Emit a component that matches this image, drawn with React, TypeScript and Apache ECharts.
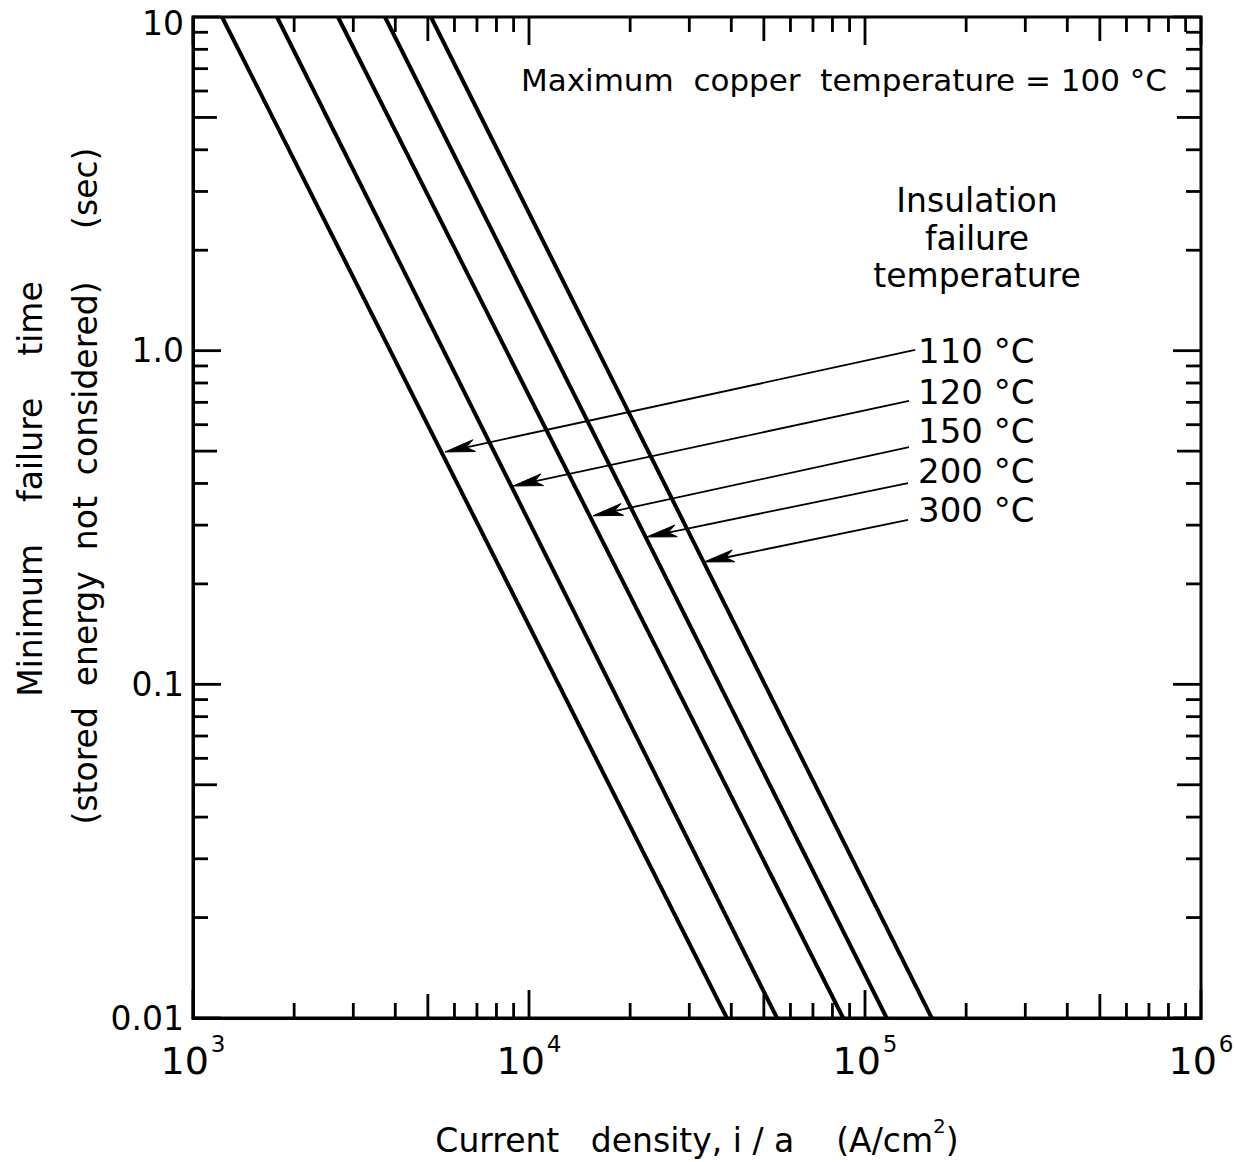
import React, { useEffect, useRef } from 'react';
import * as echarts from 'echarts';

const FAM = "'DejaVu Sans', sans-serif";

// Axis ranges
const X_MIN = 1e3;
const X_MAX = 1e6;
const Y_MIN = 0.01;
const Y_MAX = 10;

// Tick labels
const xTickExponents = ['3', '4', '5', '6'];
const yTickLabels = ['0.01', '0.1', '1.0', '10'];
const tickMantissas = [1, 2, 3, 4, 5, 6, 7, 8, 9];

// Curves: insulation failure temperature, current density at t = 10 s and at t = 0.01 s
const insulationTemps = ['110 °C', '120 °C', '150 °C', '200 °C', '300 °C'];
const currentAt10s = [1220, 1778, 2700, 3727, 5106];
const currentAt10ms = [38800, 54700, 86100, 116000, 158000];

// Arrows from labels to curves
const arrowTailX = [141000, 135200, 135200, 134300, 134300];
const arrowTailY = [1.005, 0.707, 0.514, 0.401, 0.311];
const arrowHeadX = [5620, 8960, 15500, 22400, 33200];
const arrowHeadY = [0.497, 0.393, 0.32, 0.2765, 0.2327];
const labelX = [143900, 143900, 143900, 143900, 143900];
const labelY = [0.998, 0.752, 0.574, 0.436, 0.333];

function buildTicks(minExp: number, maxExp: number) {
  const out: number[] = [];
  for (let e = minExp; e < maxExp; e++) {
    for (const m of tickMantissas) out.push(m * Math.pow(10, e));
  }
  out.push(Math.pow(10, maxExp));
  return out;
}
const xTicks = buildTicks(3, 6);
const yTicks = buildTicks(-2, 1);

function tickLen(v: number) {
  const e = Math.floor(Math.log10(v) + 1e-9);
  const m = Math.round(v / Math.pow(10, e));
  if (m === 1) return 28;
  if (m === 5) return 24;
  return 15;
}

export default function App() {
  const ref = useRef<HTMLDivElement>(null);
  useEffect(() => {
    if (!ref.current) return;
    const chart = echarts.init(ref.current, undefined, { renderer: 'svg' });

    const curveSeries = insulationTemps.map((name, i) => ({
      type: 'line',
      name,
      data: [
        [currentAt10s[i], Y_MAX],
        [currentAt10ms[i], Y_MIN],
      ],
      showSymbol: false,
      symbol: 'none',
      clip: true,
      lineStyle: { color: '#000', width: 4 },
      silent: true,
    }));

    const tickStyle = { stroke: '#000', lineWidth: 2.8 };

    const xTickSeries = {
      type: 'custom',
      coordinateSystem: 'cartesian2d',
      silent: true,
      data: xTicks.map((v) => [v, Y_MIN]),
      renderItem: (params: any, api: any) => {
        const v = api.value(0);
        const b = api.coord([v, Y_MIN]);
        const t = api.coord([v, Y_MAX]);
        const len = tickLen(v);
        return {
          type: 'group',
          children: [
            { type: 'line', shape: { x1: b[0], y1: b[1], x2: b[0], y2: b[1] - len }, style: tickStyle },
            { type: 'line', shape: { x1: t[0], y1: t[1], x2: t[0], y2: t[1] + len }, style: tickStyle },
          ],
        };
      },
    };

    const yTickSeries = {
      type: 'custom',
      coordinateSystem: 'cartesian2d',
      silent: true,
      data: yTicks.map((v) => [X_MIN, v]),
      renderItem: (params: any, api: any) => {
        const v = api.value(1);
        const l = api.coord([X_MIN, v]);
        const r = api.coord([X_MAX, v]);
        const len = tickLen(v);
        return {
          type: 'group',
          children: [
            { type: 'line', shape: { x1: l[0], y1: l[1], x2: l[0] + len, y2: l[1] }, style: tickStyle },
            { type: 'line', shape: { x1: r[0], y1: r[1], x2: r[0] - len, y2: r[1] }, style: tickStyle },
          ],
        };
      },
    };

    const arrowSeries = {
      type: 'custom',
      coordinateSystem: 'cartesian2d',
      silent: true,
      data: insulationTemps.map((_, i) => [arrowTailX[i], arrowTailY[i], arrowHeadX[i], arrowHeadY[i], labelX[i], labelY[i]]),
      renderItem: (params: any, api: any) => {
        const p1 = api.coord([api.value(0), api.value(1)]);
        const p2 = api.coord([api.value(2), api.value(3)]);
        const lp = api.coord([api.value(4), api.value(5)]);
        const dx = p1[0] - p2[0];
        const dy = p1[1] - p2[1];
        const d = Math.sqrt(dx * dx + dy * dy);
        const ux = dx / d;
        const uy = dy / d;
        const nx = -uy;
        const ny = ux;
        const L = 30;
        const W = 6;
        const N = 22;
        const back = [p2[0] + ux * L, p2[1] + uy * L];
        const notch = [p2[0] + ux * N, p2[1] + uy * N];
        const text = insulationTemps[params.dataIndex];
        return {
          type: 'group',
          children: [
            {
              type: 'line',
              shape: { x1: p1[0], y1: p1[1], x2: notch[0], y2: notch[1] },
              style: { stroke: '#000', lineWidth: 1.8 },
            },
            {
              type: 'polygon',
              shape: {
                points: [
                  [p2[0], p2[1]],
                  [back[0] + nx * W, back[1] + ny * W],
                  [notch[0], notch[1]],
                  [back[0] - nx * W, back[1] - ny * W],
                ],
              },
              style: { fill: '#000', stroke: '#000', lineWidth: 1 },
            },
            {
              type: 'text',
              x: lp[0],
              y: lp[1],
              style: {
                text,
                fill: '#000',
                font: `34px ${FAM}`,
                align: 'left',
                verticalAlign: 'middle',
                textAlign: 'left',
                textVerticalAlign: 'middle',
              },
            },
          ],
        };
      },
    };

    const txt = (text: string, x: number, y: number, size: number, extra: any = {}) => ({
      type: 'text',
      x,
      y,
      silent: true,
      ...extra,
      style: {
        text,
        fill: '#000',
        font: `${size}px ${FAM}`,
        align: 'center',
        verticalAlign: 'middle',
        textAlign: 'center',
        textVerticalAlign: 'middle',
        ...(extra.style || {}),
      },
    });

    const option: any = {
      animation: false,
      backgroundColor: '#fff',
      grid: {
        left: 193,
        top: 17,
        right: 34,
        bottom: 144,
        show: true,
        borderColor: '#000',
        borderWidth: 3,
        outerBoundsMode: 'none',
        containLabel: false,
      },
      xAxis: {
        type: 'log',
        logBase: 10,
        min: X_MIN,
        max: X_MAX,
        axisLine: { show: true, lineStyle: { color: '#000', width: 3 } },
        axisTick: { show: false },
        splitLine: { show: false },
        minorTick: { show: false },
        axisLabel: {
          margin: 14,
          color: '#000',
          formatter: (v: number) => {
            const e = Math.round(Math.log10(v));
            return `{b|10}{s|${xTickExponents[e - 3]}}`;
          },
          rich: {
            b: { fontSize: 38, fontFamily: FAM, color: '#000', padding: [10, 0, 0, 0] },
            s: { fontSize: 23, fontFamily: FAM, color: '#000', verticalAlign: 'top', padding: [0, 0, 0, 2] },
          },
        },
        name: '{n|Current   density, i / a    (A/cm}{s|2}{n|)}',
        nameLocation: 'middle',
        nameGap: 98,
        nameTextStyle: {
          rich: {
            n: { fontSize: 33, fontFamily: FAM, color: '#000', padding: [8, 0, 0, 0] },
            s: { fontSize: 20, fontFamily: FAM, color: '#000', verticalAlign: 'top' },
          },
        },
      },
      yAxis: {
        type: 'log',
        logBase: 10,
        min: Y_MIN,
        max: Y_MAX,
        axisLine: { show: true, lineStyle: { color: '#000', width: 3 } },
        axisTick: { show: false },
        splitLine: { show: false },
        minorTick: { show: false },
        axisLabel: {
          margin: 9,
          color: '#000',
          fontSize: 33,
          fontFamily: FAM,
          formatter: (v: number) => {
            const e = Math.round(Math.log10(v));
            return e === 1 ? '{t|10}' : yTickLabels[e + 2];
          },
          rich: {
            t: { fontSize: 33, fontFamily: FAM, color: '#000', padding: [12, 0, 0, 0] },
          },
        },
      },
      graphic: [
        txt('Maximum  copper  temperature = 100 °C', 844, 80, 31),
        txt('Insulation', 977, 200, 33),
        txt('failure', 977, 238, 33),
        txt('temperature', 977, 275, 33),
        txt('Minimum    failure    time', 30, 489, 33, { rotation: Math.PI / 2 }),
        txt('(stored  energy  not  considered)     (sec)', 85, 486, 33, { rotation: Math.PI / 2 }),
      ],
      series: [...curveSeries, xTickSeries, yTickSeries, arrowSeries],
    };

    chart.setOption(option);
    return () => chart.dispose();
  }, []);

  return (
    <div
      ref={ref}
      style={{ position: 'absolute', left: 0, top: 0, width: 1235, height: 1162, background: '#fff' }}
    />
  );
}
